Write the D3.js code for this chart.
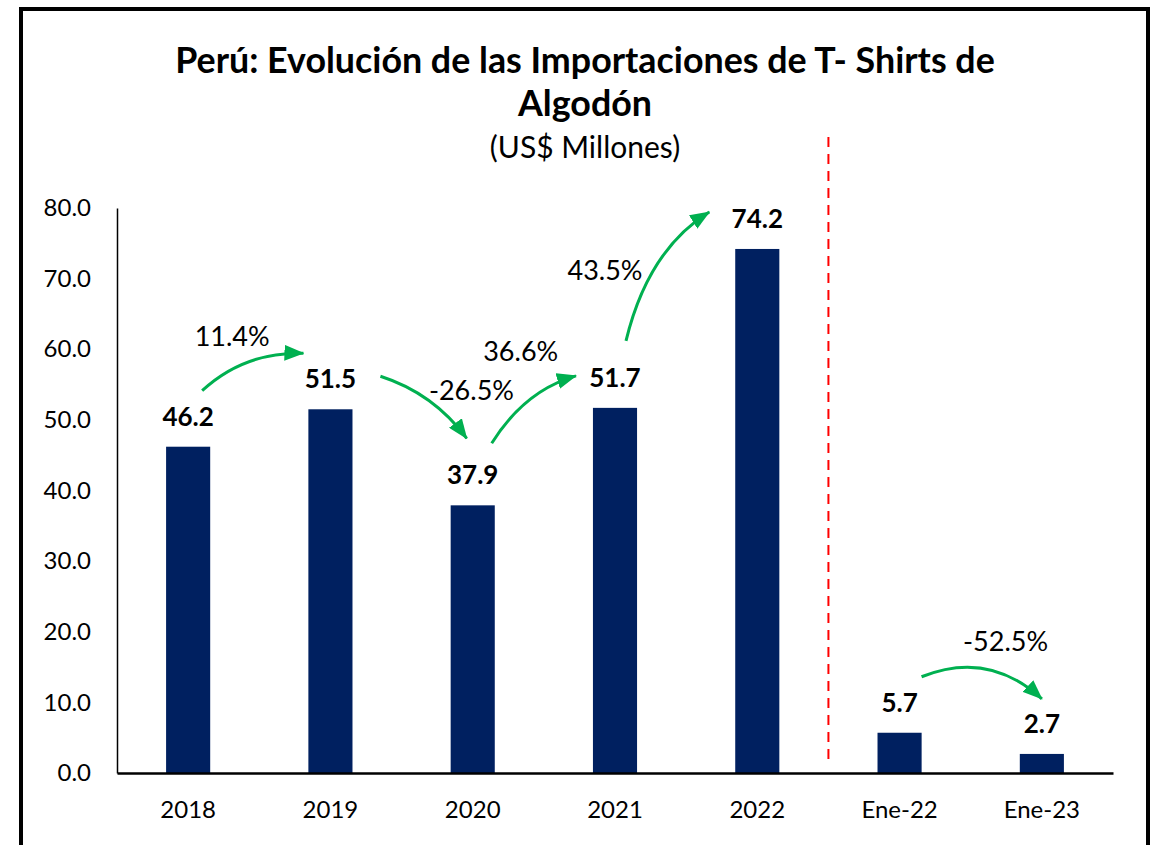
<!DOCTYPE html>
<html>
<head>
<meta charset="utf-8">
<script src="https://cdn.jsdelivr.net/npm/d3@7"></script>
<style>
  html, body { margin: 0; padding: 0; background: #fff; }
  svg { display: block; font-family: Lato, "Noto Sans", sans-serif; }
</style>
</head>
<body>
<svg id="chart" width="1155" height="845"></svg>
<script>
// ---- data ----
const categories = ["2018", "2019", "2020", "2021", "2022", "Ene-22", "Ene-23"];
const values = [46.2, 51.5, 37.9, 51.7, 74.2, 5.7, 2.7];
const yTicks = [0, 10, 20, 30, 40, 50, 60, 70, 80];
const changeFrom = ["2018", "2019", "2020", "2021", "Ene-22"];
const changeTo = ["2019", "2020", "2021", "2022", "Ene-23"];
const changeLabels = ["11.4%", "-26.5%", "36.6%", "43.5%", "-52.5%"];
const titleLines = ["Perú: Evolución de las Importaciones de T- Shirts de", "Algodón"];
const subtitle = "(US$ Millones)";

// ---- layout ----
const svg = d3.select("#chart");
const W = 1155, H = 845;
const plot = { left: 117, right: 1113, top: 208, bottom: 773 };
const barColor = "#002060";
const green = "#00B050";

const x = d3.scaleBand().domain(categories).range([plot.left, plot.right])
  .paddingInner(0.69).paddingOuter(0.345);
const y = d3.scaleLinear().domain([0, 80]).range([plot.bottom, plot.top]);
const valueOf = c => values[categories.indexOf(c)];
const cx = c => x(c) + x.bandwidth() / 2;

// outer frame
svg.append("rect").attr("x", 21).attr("y", 9).attr("width", 1127).attr("height", H + 20)
  .attr("fill", "none").attr("stroke", "#000").attr("stroke-width", 4);

// titles
const t1 = svg.append("text").attr("x", 585).attr("y", 73).attr("text-anchor", "middle")
  .attr("font-weight", 700).attr("font-size", 32).attr("fill", "#000").text(titleLines[0]);
const len = t1.node().getComputedTextLength();
const fs = 32 * 820 / len;
t1.attr("font-size", fs);
svg.append("text").attr("x", 585).attr("y", 116).attr("text-anchor", "middle")
  .attr("font-weight", 700).attr("font-size", fs).attr("fill", "#000").text(titleLines[1]);
svg.append("text").attr("x", 585).attr("y", 158).attr("text-anchor", "middle")
  .attr("font-size", 30).attr("fill", "#000").text(subtitle);

// bars
svg.append("g").selectAll("rect").data(categories).join("rect")
  .attr("x", c => x(c)).attr("width", x.bandwidth())
  .attr("y", (c, i) => y(values[i])).attr("height", (c, i) => y(0) - y(values[i]))
  .attr("fill", barColor);

// value labels
svg.append("g").selectAll("text").data(categories).join("text")
  .attr("x", c => cx(c)).attr("y", (c, i) => y(values[i]) - 21)
  .attr("text-anchor", "middle").attr("font-weight", 700).attr("font-size", 26)
  .attr("fill", "#000").text((c, i) => values[i].toFixed(1));

// y axis
const yAxis = d3.axisLeft(y).tickValues(yTicks).tickSize(0).tickPadding(26)
  .tickFormat(d3.format(".1f"));
const gy = svg.append("g").attr("transform", `translate(${plot.left},0)`).call(yAxis);
gy.select(".domain").attr("stroke", "#000").attr("stroke-width", 1.5);
gy.selectAll("text").attr("font-size", 24).attr("fill", "#000")
  .attr("font-family", "Lato, sans-serif");

// x axis
const xAxis = d3.axisBottom(x).tickSize(0).tickPadding(28);
const gx = svg.append("g").attr("transform", `translate(0,${plot.bottom})`).call(xAxis);
gx.select(".domain").attr("stroke", "#000").attr("stroke-width", 2.5);
gx.selectAll("text").attr("font-size", 24).attr("fill", "#000")
  .attr("font-family", "Lato, sans-serif");

// red dashed separator between annual and monthly groups
const sepX = cx("2022") + x.step() / 2;
svg.append("line").attr("x1", sepX).attr("x2", sepX).attr("y1", 137).attr("y2", 766)
  .attr("stroke", "#FF0000").attr("stroke-width", 2).attr("stroke-dasharray", "10,7");

// arrows
const defs = svg.append("defs");
defs.append("marker").attr("id", "ah").attr("viewBox", "0 0 20 16")
  .attr("refX", 19).attr("refY", 8).attr("markerWidth", 20).attr("markerHeight", 16)
  .attr("markerUnits", "userSpaceOnUse").attr("orient", "auto")
  .append("path").attr("d", "M0,0 L20,8 L0,16 Z").attr("fill", green);

// arrow geometry offsets relative to bar centres / tops (annotation layout)
const arrowLayout = [
  { s: [14, -56], e: [-27, -56], c: [56, -95], l: [44, -101] },
  { s: [50, -33], e: [-6, -67], c: [103, -16], l: [141, -9] },
  { s: [19, -62], e: [-39, -32], c: [52, -115], l: [48, -144] },
  { s: [11, -67], e: [-48, -37], c: [33, -158], l: [-10, -128] },
  { s: [22, -56], e: [0, -55], c: [89, -83], l: [106, -82] }
];

changeFrom.forEach((f, i) => {
  const t = changeTo[i];
  const L = arrowLayout[i];
  const x0 = cx(f) + L.s[0], y0 = y(valueOf(f)) + L.s[1];
  const x1 = cx(t) + L.e[0], y1 = y(valueOf(t)) + L.e[1];
  const xc = cx(f) + L.c[0], yc = y(valueOf(f)) + L.c[1];
  const p = d3.path();
  p.moveTo(x0, y0);
  p.quadraticCurveTo(xc, yc, x1, y1);
  svg.append("path").attr("d", p.toString()).attr("fill", "none")
    .attr("stroke", green).attr("stroke-width", 3).attr("marker-end", "url(#ah)");
  svg.append("text").attr("x", cx(f) + L.l[0]).attr("y", y(valueOf(f)) + L.l[1])
    .attr("text-anchor", "middle").attr("font-size", 27).attr("fill", "#000")
    .text(changeLabels[i]);
});
</script>
</body>
</html>
